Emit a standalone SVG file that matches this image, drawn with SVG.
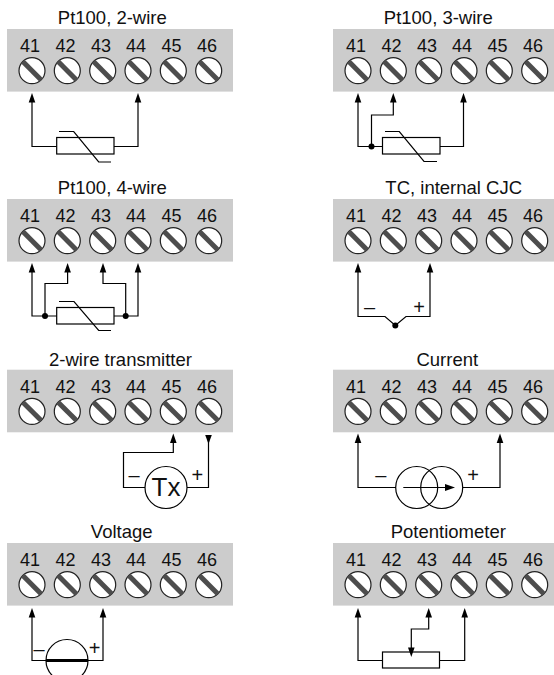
<svg xmlns="http://www.w3.org/2000/svg" width="554" height="675" viewBox="0 0 554 675">
<style>
text{font-family:"Liberation Sans",Arial,sans-serif;fill:#111;text-anchor:middle}
.t{font-size:18.5px}
.n{font-size:18px}
.s{font-size:20px}
.tx{font-size:26px}
.w{fill:none;stroke:#000;stroke-width:1.2}
.b{fill:#fff;stroke:#000;stroke-width:1.2}
.d{fill:#000}
.p{fill:#ccc}
.sc{fill:#fff;stroke:#222;stroke-width:1.2}
.sl{stroke:#4d4d4d;stroke-width:5;fill:none}
</style>
<defs>
<g id="screw"><circle class="sc" r="13"/><path class="sl" d="M-9.2-9.2L9.2 9.2"/></g>
<g id="block">
<rect class="p" x="7" y="0" width="226" height="62.6"/>
<text class="n" x="30" y="23">41</text><text class="n" x="65.5" y="23">42</text><text class="n" x="101" y="23">43</text><text class="n" x="136" y="23">44</text><text class="n" x="171.5" y="23">45</text><text class="n" x="207" y="23">46</text>
<use href="#screw" x="32" y="41.7"/><use href="#screw" x="67.3" y="41.7"/><use href="#screw" x="102.7" y="41.7"/><use href="#screw" x="138" y="41.7"/><use href="#screw" x="173.3" y="41.7"/><use href="#screw" x="208.7" y="41.7"/>
</g>
<path id="up" d="M0 0L-3.3 9.5H3.3Z"/>
</defs>
<g id="block-pt100-2">
<text class="t" x="112.3" y="24">Pt100, 2-wire</text><use href="#block" y="29"/>
<rect class="b" x="56.7" y="137.5" width="57.3" height="16.5"/>
</g>
<g id="block-pt100-3">
<text class="t" x="438.3" y="24">Pt100, 3-wire</text><use href="#block" x="326" y="29"/>
<rect class="b" x="382.5" y="137.5" width="57.5" height="16.5"/>
</g>
<g id="block-pt100-4">
<text class="t" x="112.3" y="194">Pt100, 4-wire</text><use href="#block" y="199"/>
<rect class="b" x="56.7" y="307.5" width="57.3" height="16.5"/>
</g>
<g id="block-tc">
<text class="t" x="453.7" y="194">TC, internal CJC</text><use href="#block" x="326" y="199"/>
</g>
<g id="block-tx">
<text class="t" x="120.5" y="365.7">2-wire transmitter</text><use href="#block" y="369.7"/>
<circle class="b" cx="166" cy="487.5" r="21"/><text class="tx" x="166" y="496">Tx</text>
</g>
<g id="block-current">
<text class="t" x="447.3" y="365.7">Current</text><use href="#block" x="326" y="369.7"/>
<circle class="w" cx="416.7" cy="487.5" r="21"/><circle class="w" cx="441.7" cy="487.5" r="21"/>
</g>
<g id="block-voltage">
<text class="t" x="121.7" y="537.7">Voltage</text><use href="#block" y="543"/>
<circle class="b" cx="67" cy="660.5" r="21"/>
<path d="M46 660.5H88" stroke="#000" stroke-width="3" fill="none"/>
</g>
<g id="block-pot">
<text class="t" x="448.3" y="537.7">Potentiometer</text><use href="#block" x="326" y="543"/>
<rect class="b" x="382.5" y="652" width="57" height="16"/>
</g>
<g id="connectors">
<path class="w" d="M32 100V146.5H56.7M114 146.5H138V100"/>
<path class="w" d="M59 131.5H73.7L98.7 162H111"/>
<use class="d" href="#up" x="32" y="93"/><use class="d" href="#up" x="138" y="93"/>

<path class="w" d="M358 100V146.5H382.5M371.5 146.5V115H393.3V100M440 146.5H463.5V100"/>
<path class="w" d="M385 131.5H399.3L424 161.5H437"/>
<circle class="d" cx="371.5" cy="146.5" r="3"/>
<use class="d" href="#up" x="358" y="93"/><use class="d" href="#up" x="393.3" y="93"/><use class="d" href="#up" x="463.5" y="93"/>

<path class="w" d="M32 270V316H56.7M45 316V283.5H67.6V270M114 316H138V270M125.7 316V283.5H103V270"/>
<path class="w" d="M59 301.5H74L98.7 330.5H111"/>
<circle class="d" cx="45" cy="316" r="3"/><circle class="d" cx="125.7" cy="316" r="3"/>
<use class="d" href="#up" x="32" y="263"/><use class="d" href="#up" x="67.6" y="263"/><use class="d" href="#up" x="103" y="263"/><use class="d" href="#up" x="138" y="263"/>

<path class="w" d="M358 270V316.5H385L395.3 325.5L406 316.5H430V270"/>
<circle class="d" cx="395.3" cy="325.5" r="3"/>
<use class="d" href="#up" x="358" y="263"/><use class="d" href="#up" x="430" y="263"/>
<text class="s" x="369.5" y="314">–</text><text class="s" x="419" y="313.5">+</text>

<path class="w" d="M173.3 441V452.5H123.5V487.5H145M187 487.5H208.5V440"/>
<use class="d" href="#up" x="173.3" y="433.5"/>
<path class="d" d="M208.5 444L205.2 435H211.8Z"/>
<text class="s" x="134" y="482">–</text><text class="s" x="197.3" y="481.7">+</text>

<path class="w" d="M358 441V487.5H396M462.7 487.5H500V441"/>
<path class="w" d="M403.3 487.5H447"/>
<path class="d" d="M455 487.5L445 484V491Z"/>
<use class="d" href="#up" x="358" y="433.5"/><use class="d" href="#up" x="500" y="433.5"/>
<text class="s" x="380.7" y="482">–</text><text class="s" x="473" y="481.7">+</text>

<path class="w" d="M32 615V660.5H46M88 660.5H103V615"/>
<use class="d" href="#up" x="32" y="608"/><use class="d" href="#up" x="103" y="608"/>
<text class="s" x="39" y="655.5">–</text><text class="s" x="94.7" y="655">+</text>

<path class="w" d="M358 615V660.5H382.5M439.5 660.5H464.7V615M428.7 615V629H411.3V650"/>
<use class="d" href="#up" x="358" y="608"/><use class="d" href="#up" x="428.7" y="608"/><use class="d" href="#up" x="464.7" y="608"/>
<path class="d" d="M411.3 657L408 647.5H414.6Z"/>
</g>
</svg>
